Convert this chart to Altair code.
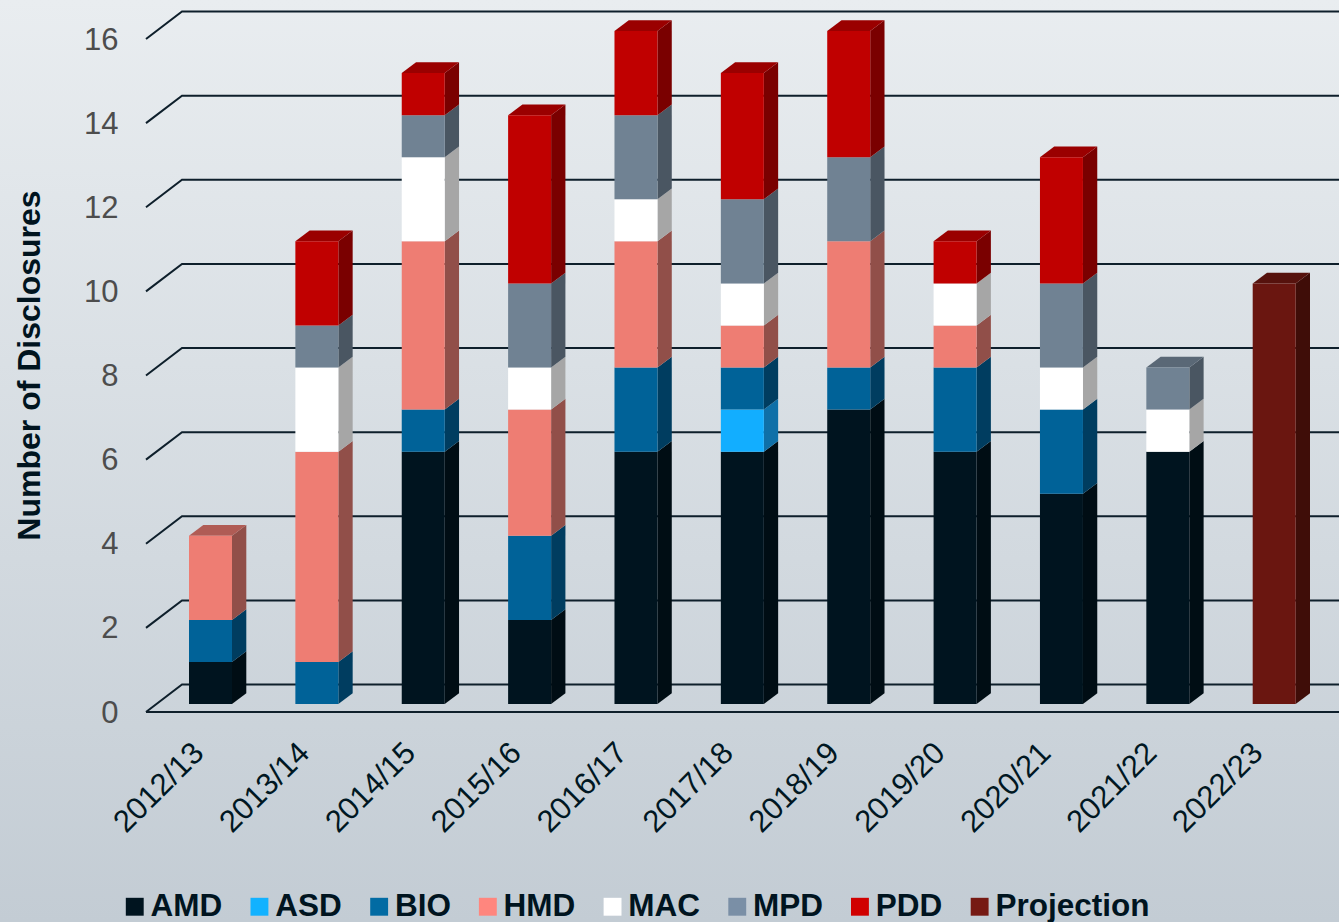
import altair as alt
import pandas as pd

# Disclosure counts per financial year, one list per division
years = ["2012/13", "2013/14", "2014/15", "2015/16", "2016/17", "2017/18",
         "2018/19", "2019/20", "2020/21", "2021/22", "2022/23"]
AMD = [1, 0, 6, 2, 6, 6, 7, 6, 5, 6, 0]
ASD = [0, 0, 0, 0, 0, 1, 0, 0, 0, 0, 0]
BIO = [1, 1, 1, 2, 2, 1, 1, 2, 2, 0, 0]
HMD = [2, 5, 4, 3, 3, 1, 3, 1, 0, 0, 0]
MAC = [0, 2, 2, 1, 1, 1, 0, 1, 1, 1, 0]
MPD = [0, 1, 1, 2, 2, 2, 2, 0, 2, 1, 0]
PDD = [0, 2, 1, 4, 2, 3, 3, 1, 3, 0, 0]
Projection = [0, 0, 0, 0, 0, 0, 0, 0, 0, 0, 10]
y_ticks = [0, 2, 4, 6, 8, 10, 12, 14, 16]

series = ["AMD", "ASD", "BIO", "HMD", "MAC", "MPD", "PDD", "Projection"]
values = [AMD, ASD, BIO, HMD, MAC, MPD, PDD, Projection]

# Shades of each division: legend swatch, front, side and top faces
legend_colors = ["#00141f", "#12b2ff", "#026ba3", "#ff867e", "#ffffff", "#7a8fa6", "#d00000", "#761a14"]
front_colors = ["#00141f", "#12aeff", "#006298", "#ee7d73", "#ffffff", "#708293", "#c00000", "#6a1610"]
side_colors = ["#000d14", "#0f70a8", "#003d60", "#914f49", "#a6a6a6", "#4a5662", "#7a0000", "#3f0d08"]
top_colors = ["#000f17", "#0e85c0", "#004a73", "#b05c55", "#bfbfbf", "#5a6876", "#9a0000", "#56120d"]

# Plot frame and pseudo-3D geometry, in pixels
CANVAS_W, CANVAS_H = 1339, 922
LEFT, TOP, BOTTOM = 146, 39, 712
PLOT_W, PLOT_H = CANVAS_W - LEFT, BOTTOM - TOP
STEP = 106.37
LABEL_STEP = 105.9
CENTER0 = 210.5
BAR_W = 43
DEPTH_X, DEPTH_Y = 14.3, 10.7
WALL_X, WALL_Y = 36, 27.5
BAR_LIFT = 8
UNIT = PLOT_H / 16

to_x = lambda px: px / STEP
to_y = lambda px: px / UNIT
x_domain = [(0 - (CENTER0 - LEFT)) / STEP, (PLOT_W - (CENTER0 - LEFT)) / STEP]
x_scale = alt.Scale(domain=x_domain, nice=False, zero=False)
y_scale = alt.Scale(domain=[0, 16], nice=False, zero=False)

half = to_x(BAR_W) / 2
dx, dy = to_x(DEPTH_X), to_y(DEPTH_Y)
lift = to_y(BAR_LIFT)

fronts, faces = [], []
for i, year in enumerate(years):
    base = 0
    last = None
    for s, vals in enumerate(values):
        v = vals[i]
        if not v:
            continue
        low, high = base, base + v
        base = high
        last = s
        fronts.append(dict(x=i - half, x2=i + half, y=low, y2=high, fill=front_colors[s]))
        fid = f"side-{i}-{s}"
        faces.append(dict(id=fid, x=i + half, y=high + lift, y2=low + lift, fill=side_colors[s]))
        faces.append(dict(id=fid, x=i + half + dx, y=high + dy + lift, y2=low + dy + lift, fill=side_colors[s]))
    top = base + lift
    fid = f"top-{i}"
    faces.append(dict(id=fid, x=i - half, y=top, y2=top, fill=top_colors[last]))
    faces.append(dict(id=fid, x=i - half + dx, y=top + dy, y2=top, fill=top_colors[last]))
    faces.append(dict(id=fid, x=i + half, y=top + dy, y2=top, fill=top_colors[last]))
    faces.append(dict(id=fid, x=i + half + dx, y=top + dy, y2=top + dy, fill=top_colors[last]))

grid_rows = []
for t in y_ticks:
    grid_rows.append(dict(tick=t, ord=0, x=x_domain[0], y=t))
    grid_rows.append(dict(tick=t, ord=1, x=x_domain[0] + to_x(WALL_X), y=t + to_y(WALL_Y)))
    grid_rows.append(dict(tick=t, ord=2, x=x_domain[1], y=t + to_y(WALL_Y)))

x_enc = alt.X("x:Q", scale=x_scale)
y_enc = alt.Y("y:Q", scale=y_scale, stack=None)

background = alt.Chart(pd.DataFrame({"a": [0]})).mark_rect(
    color=alt.LinearGradient(
        gradient="linear", x1=0, y1=0, x2=0, y2=1,
        stops=[alt.GradientStop(offset=0, color="#e9edf0"),
               alt.GradientStop(offset=1, color="#c3ccd4")],
    )
).encode(
    x=alt.value(-LEFT), x2=alt.value(PLOT_W),
    y=alt.value(-TOP), y2=alt.value(CANVAS_H - TOP),
)

walls = alt.Chart(pd.DataFrame(grid_rows)).mark_line(
    color="#0e1f2b", strokeWidth=2, clip=False
).encode(x=x_enc, y=y_enc, detail="tick:N", order="ord:Q")

floor = alt.Chart(pd.DataFrame({"x": x_domain, "y": [0, 0]})).mark_line(
    color="#0e1f2b", strokeWidth=2
).encode(x=x_enc, y=y_enc)

# Axes carry the tick and category labels
axes = alt.Chart(pd.DataFrame({"x": [0], "y": [0]})).mark_point(opacity=0).encode(
    x=alt.X("x:Q", scale=x_scale, axis=alt.Axis(
        values=[i * LABEL_STEP / STEP for i in range(len(years))], zindex=1, title=None,
        labelExpr="[" + ",".join(f"'{y}'" for y in years) + "][round(datum.value)]",
        labelAngle=-45, labelAlign="right", labelBaseline="middle",
        labelFont="Liberation Sans", labelFontSize=31, labelColor="#001722",
        labelPadding=36, labelOffset=-12, domain=False, ticks=False, grid=False, labelOverlap=False,
    )),
    y=alt.Y("y:Q", scale=y_scale, axis=alt.Axis(
        values=y_ticks, title="Number of Disclosures", zindex=1,
        titleFont="Liberation Sans", titleFontSize=32, titleFontWeight="bold",
        titleColor="#00141f", titleX=29 - LEFT, titleY=365 - TOP, titleBaseline="middle",
        labelFont="Liberation Sans", labelFontSize=31, labelColor="#4d4d4d",
        labelPadding=28, labelOffset=1, domain=False, ticks=False, grid=False,
    )),
)

side_top = alt.Chart(pd.DataFrame(faces)).mark_area(
    interpolate="linear", opacity=1
).encode(
    x=x_enc, y=y_enc, y2="y2:Q",
    fill=alt.Fill("fill:N", scale=None),
    detail="id:N",
)

front = alt.Chart(pd.DataFrame(fronts)).mark_rect(
    yOffset=-BAR_LIFT, y2Offset=-BAR_LIFT
).encode(
    x=x_enc, x2="x2:Q", y=y_enc, y2="y2:Q",
    fill=alt.Fill("fill:N", scale=None),
)

key = alt.Chart(pd.DataFrame({"series": series})).mark_square(size=0).encode(
    color=alt.Color("series:N", scale=alt.Scale(domain=series, range=legend_colors), legend=alt.Legend(
        orient="none", legendX=119 - LEFT, legendY=891 - TOP, direction="horizontal",
        columns=8, gridAlign="none", columnPadding=20.7, title=None, padding=0,
        symbolType="square", symbolSize=320, symbolStrokeWidth=0, symbolOpacity=1,
        labelFont="Liberation Sans", labelFontSize=31.5, labelFontWeight="bold",
        labelColor="#00141f", labelOffset=0, labelLimit=300,
    ))
)

chart = alt.layer(background, walls, floor, axes, side_top, front, key).properties(
    width=PLOT_W, height=PLOT_H,
    padding={"left": LEFT, "top": TOP, "right": 0, "bottom": CANVAS_H - BOTTOM},
    autosize=alt.AutoSizeParams(type="none"),
).configure_view(stroke=None)

chart.save("out.html", embed_options={"renderer": "svg", "actions": False})
